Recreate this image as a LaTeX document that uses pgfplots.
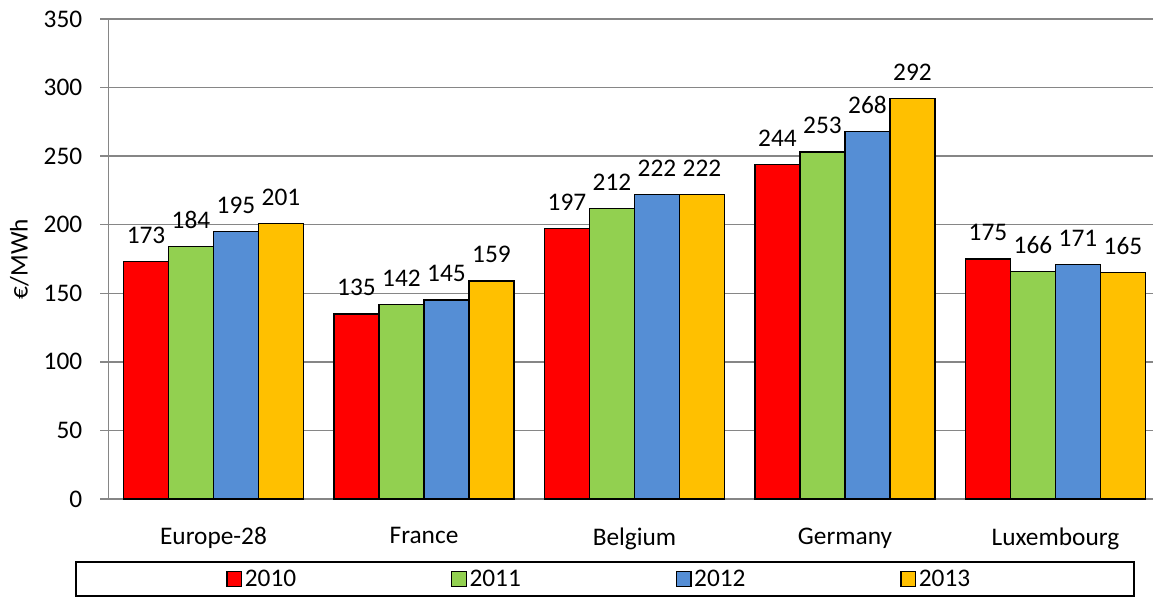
\documentclass[border=0pt]{standalone}
\usepackage{pgfplots}
\pgfplotsset{compat=1.18}
\usepackage{fontspec}
\setmainfont{Carlito}
\definecolor{c2010}{HTML}{FF0000}
\definecolor{c2011}{HTML}{92D050}
\definecolor{c2012}{HTML}{558ED5}
\definecolor{c2013}{HTML}{FFC000}
\definecolor{gridgray}{HTML}{868686}
\newcommand{\fs}{\fontsize{19}{23}\selectfont}
\begin{document}
\begin{tikzpicture}
\begin{axis}[
  scale only axis, width=789.4pt, height=360pt,
  at={(0pt,0pt)}, anchor=south west,
  xmin=-0.5, xmax=4.5, ymin=0, ymax=350,
  ybar=0pt, bar width=33.75pt,
  xtick={0,1,2,3,4},
  xticklabels={Europe-28,France,Belgium,Germany,Luxembourg},
  ytick={0,50,...,350},
  axis x line=bottom, axis y line=left,
  axis line style={-, gridgray, line width=1.1pt},
  ymajorgrids, grid style={gridgray, line width=1.1pt},
  tick align=outside, major tick length=6pt,
  ytick style={gridgray, line width=1.1pt},
  xtick style={draw=none},
  enlarge x limits=false,
  clip=false,
  /pgf/number format/assume math mode=true,
  tick label style={font=\fs},
  yticklabel style={xshift=-10pt},
  xticklabel style={yshift=-12pt},
  ylabel={€/MWh},
  ylabel style={font=\fs, at={(axis description cs:-0.0845,0.5)}, anchor=center},
  nodes near coords,
  every node near coord/.append style={font=\fs, anchor=south, inner sep=0pt, yshift=13pt, black},
  legend columns=4,
  legend style={draw=none, fill=none, font=\fs, at={(axis description cs:0.4668,-0.1667)}, anchor=center,
    /tikz/every even column/.append style={column sep=114pt}},
  legend image code/.code={\draw[#1, line width=1pt] (0pt,-5.5pt) rectangle (11pt,5.5pt);},
]
\addplot[fill=c2010, draw=black, line width=1pt] coordinates {(0,173) (1,135) (2,197) (3,244) (4,175)};
\addplot[fill=c2011, draw=black, line width=1pt] coordinates {(0,184) (1,142) (2,212) (3,253) (4,166)};
\addplot[fill=c2012, draw=black, line width=1pt] coordinates {(0,195) (1,145) (2,222) (3,268) (4,171)};
\addplot[fill=c2013, draw=black, line width=1pt] coordinates {(0,201) (1,159) (2,222) (3,292) (4,165)};
\legend{2010,2011,2012,2013}
\end{axis}
\draw[line width=1.1pt] (-24.2pt,-47.25pt) rectangle (769.3pt,-72.75pt);
\pgfresetboundingbox
\path[use as bounding box] (-81.2pt,-73.5pt) rectangle (783.6pt,374.25pt);
\end{tikzpicture}
\end{document}
